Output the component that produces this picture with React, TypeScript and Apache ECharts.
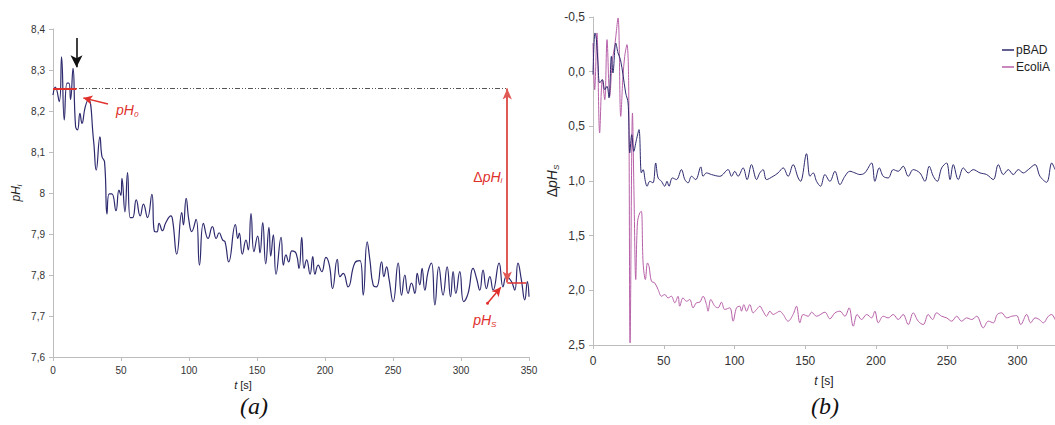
import React, { useEffect, useRef } from "react";
import * as echarts from "echarts";

// ---- Chart (a): pH_i versus time ----
const leftT = [0,1.7,4.6,6.3,8.3,10.3,11.7,12.9,14.7,16.6,18,19.8,21.3,23.7,26.1,29.8,31.8,34.5,36,37.9,39.7,41.3,43.3,46.3,48.5,49.9,50.7,52.9,54.8,56.8,58.5,61.2,64.1,66.5,69.5,72.7,74.6,76.4,78,80.5,83,86.7,88.1,91,94.7,95.9,97.9,99.9,102,105.2,107.7,110.6,114,117.2,120,122.1,124.8,126.5,129.2,134.1,135.9,137,139.2,141.9,143.6,145.6,147.8,150.5,152.2,154.2,156.4,158.8,160.1,162,164,167.7,169.4,171.3,173.3,175.7,178.7,180.9,182.9,184.6,186.5,189,191,192.6,195,197.6,200.7,203.2,205.6,209,211,213.4,217,222,225.7,228.1,231,233,235.4,237.9,241.6,243.3,245.3,247,250.1,253.8,256.3,258.7,261.1,263.6,266.1,267.8,269.7,271.4,273.4,275.8,278.3,280.8,283.7,286.8,289.8,292.3,294.2,296.2,299.1,302,305.2,308.9,311.4,313.8,316.2,318.7,321.2,323.6,328,330.9,333.4,337.1,339.5,341.9,344.4,346.9,348.8,350];
const leftPH = [8.239,8.258,8.223,8.332,8.178,8.268,8.268,8.228,8.304,8.162,8.154,8.194,8.17,8.21,8.228,8.129,8.056,8.137,8.089,8.076,7.949,7.998,7.998,7.957,8.007,7.994,8.036,7.954,8.05,7.94,7.94,7.983,7.944,7.973,7.94,7.997,7.906,7.905,7.926,7.908,7.928,7.944,7.93,7.851,7.952,7.922,7.987,7.934,7.906,7.936,7.824,7.926,7.889,7.918,7.889,7.903,7.885,7.881,7.832,7.923,7.889,7.902,7.851,7.885,7.861,7.95,7.857,7.895,7.854,7.928,7.827,7.916,7.846,7.898,7.802,7.892,7.824,7.849,7.832,7.859,7.853,7.816,7.892,7.816,7.837,7.802,7.845,7.802,7.824,7.808,7.843,7.824,7.767,7.838,7.796,7.804,7.771,7.83,7.835,7.751,7.881,7.837,7.776,7.771,7.832,7.796,7.82,7.792,7.735,7.829,7.751,7.8,7.755,7.78,7.755,7.804,7.776,7.816,7.763,7.808,7.829,7.727,7.82,7.751,7.82,7.747,7.808,7.755,7.808,7.735,7.755,7.816,7.792,7.763,7.812,7.767,7.796,7.763,7.829,7.771,7.796,7.784,7.763,7.829,7.788,7.739,7.784,7.747];

// annotation values (data space)
const PH0 = 8.255;
const PHS = 7.782;
const DELTA_T = 334;
const MARK_T = 17.3;
const MARK_ARROW = [8.378, 8.307];
const PH0_ARROW = [[40.4, 8.217], [22.3, 8.232]];
const PHS_ARROW = [[319.5, 7.731], [329.3, 7.77]];
const PH0_LABEL = [54.6, 8.202];
const DPH_LABEL = [319.7, 8.04];
const PHS_LABEL = [317.5, 7.69];

// ---- Chart (b): delta pH_S versus time ----
const pbadT = [0,1.4,2.4,3.5,4.7,6.6,8.3,9.9,11.3,13,14.1,16.1,17.7,19.4,21.2,23.1,24.8,26,27.4,28.8,30.7,32.5,34.2,35.4,37,38.2,40.1,42.4,44.3,46,48.4,50.7,52.3,53.7,56.1,59,62.5,64.9,67.2,69.6,72.6,76.2,77.8,80.2,83.7,89.6,95.5,97.9,100.2,102.5,106.1,108.9,112,115.6,117.9,120.2,122.6,127.3,130.8,134.4,137.9,141.4,145,146.7,150.9,153.3,155.6,158,160.8,163.9,167.4,171,174.5,178,181.5,185.1,188.6,192.1,196.9,199.2,202.3,205.1,208.6,212.2,215.7,219.2,222.8,226.3,231,234.6,237.6,240.5,243.3,246.4,249.9,252.3,254.6,258.1,261.7,265.2,268.7,273.5,278.2,282.9,286.4,290,293.5,297,300.6,304.1,307.6,312.4,315.9,320.6,324.2,326.5];
const pbadV = [0.027,-0.354,-0.293,-0.08,0.103,0.073,0.165,0.134,0.24,-0.14,0.012,-0.262,-0.171,-0.11,0.027,0.195,0.286,0.743,0.576,0.729,0.622,0.53,0.926,0.896,1.003,1.048,1.003,1.017,0.835,0.972,1.003,1.048,1.003,1.048,0.972,0.987,0.896,0.987,1.017,0.957,0.987,0.871,0.957,0.926,0.941,0.957,0.896,0.957,0.911,0.957,0.88,0.987,0.85,0.987,0.926,0.896,0.987,0.957,0.926,0.88,0.957,0.85,0.972,1.003,0.75,0.957,0.926,1.003,1.048,0.941,1.003,0.911,1.033,0.957,0.911,0.926,0.941,0.926,0.835,1.003,0.88,0.957,0.972,0.896,0.911,0.865,0.957,0.896,0.926,1.003,0.865,0.957,1.003,0.88,0.835,0.987,0.85,0.987,0.88,0.926,0.896,0.926,0.941,0.987,0.85,0.941,0.896,0.941,0.896,0.926,0.896,0.85,0.957,1.012,0.835,0.896];
const ecoliT = [0,1.2,2.8,4.7,6.6,8.3,9.9,11.8,13.7,15.3,17.7,19.6,21.2,22.4,24,25.2,26.2,27.9,29,30.2,31.4,33,34.2,35.4,37,38.5,39.6,41.3,43.6,46,48.4,50.7,53,55.4,57.8,60.1,61.3,63.6,66.1,68.4,70.7,73.1,75.5,77.8,80.2,81.3,83.2,86.1,88.4,90.8,93.1,96.7,99,101.4,103.7,104.9,106.6,108.5,110.8,113.2,115.6,117.9,120.2,122.6,125,127.3,129.7,132,134.4,137.9,141.4,143.8,146.2,148.5,152.1,154.5,158,163.9,167.4,171,174.5,178,181,183.9,186.7,189.8,193.4,196.9,199.2,201.6,205.1,208.6,212.2,215.7,219.2,222.8,226.3,229.8,233.4,236.9,240,242.8,246.4,249.9,253.5,257,260.5,264.1,267.6,271.2,275.8,279.4,282.9,285.7,288.8,292.4,295.9,299.4,302.3,306.5,309.3,312.4,315.4,318.2,321.8,324.2,326.5];
const ecoliV = [-0.262,0.165,-0.354,0.56,0.073,0.256,-0.293,0.226,-0.11,-0.231,-0.491,0.409,0.043,-0.14,-0.247,0.103,2.48,0.378,1.14,1.901,1.383,1.292,1.277,1.749,1.901,1.749,1.78,1.917,1.932,1.993,2.054,2.038,2.069,2.054,2.114,2.054,2.145,2.069,2.1,2.084,2.16,2.114,2.108,2.054,2.13,2.191,2.084,2.145,2.16,2.108,2.175,2.16,2.282,2.16,2.145,2.191,2.13,2.191,2.13,2.206,2.175,2.145,2.191,2.237,2.191,2.221,2.206,2.191,2.221,2.282,2.221,2.145,2.297,2.221,2.237,2.2,2.237,2.2,2.26,2.206,2.191,2.237,2.16,2.328,2.221,2.267,2.221,2.252,2.191,2.297,2.237,2.252,2.221,2.267,2.221,2.313,2.206,2.282,2.313,2.221,2.267,2.206,2.237,2.252,2.282,2.237,2.282,2.252,2.267,2.237,2.343,2.282,2.297,2.221,2.206,2.252,2.237,2.231,2.313,2.221,2.297,2.252,2.267,2.297,2.237,2.221,2.267];

const LEFT_TICKS = { min: 7.6, max: 8.4, step: 0.1 };
const RIGHT_TICKS = { min: -0.5, max: 2.5, step: 0.5 };
const X_LEFT = { min: 0, max: 350, step: 50 };
const X_RIGHT = { min: 0, max: 326.5, step: 50 };

const BLUE = "#2d2a6e";
const MAGENTA = "#b760a8";
const RED = "#e0302c";
const FONT = "'Liberation Sans', Arial, sans-serif";

const zip = (a: number[], b: number[]) => a.map((v, i) => [v, b[i]]);

const subRich = (size: number, color: string) => ({
  m: { fontSize: size, fontStyle: "italic", color, fontFamily: FONT, lineHeight: size + 2 },
  s: { fontSize: Math.round(size * 0.6), fontStyle: "italic", color, fontFamily: FONT, lineHeight: 8, padding: [Math.round(size * 0.55), 0, 0, 0] },
});

export default function App() {
  const ref = useRef<HTMLDivElement>(null);
  useEffect(() => {
    if (!ref.current) return;
    const chart = echarts.init(ref.current, undefined, { renderer: "svg" });
    const axisLine = { show: true, onZero: false, lineStyle: { color: "#bdbdbd", width: 1 } };
    const axisTick = { show: true, length: 4, lineStyle: { color: "#bdbdbd" } };
    const leftFmt = (v: number) => {
      const r = Math.round(v * 10) / 10;
      return Math.abs(r - 8) < 1e-9 ? "8" : r.toFixed(1).replace(".", ",");
    };
    const rightFmt = (v: number) => (Math.round(v * 10) / 10).toFixed(1).replace(".", ",");
    const option: any = {
      animation: false,
      backgroundColor: "#ffffff",
      textStyle: { fontFamily: FONT },
      grid: [
        { left: 53, right: 526, top: 29, bottom: 68 },
        { left: 593, right: 0, top: 17, bottom: 80 },
      ],
      legend: {
        data: ["pBAD", "EcoliA"],
        orient: "vertical",
        left: 997,
        top: 39,
        icon: "rect",
        itemWidth: 12,
        itemHeight: 1.5,
        itemGap: 5,
        textStyle: { fontSize: 12, color: "#222", fontFamily: FONT, padding: [0, 0, 0, -3] },
      },
      xAxis: [
        {
          type: "value", gridIndex: 0, min: X_LEFT.min, max: X_LEFT.max, interval: X_LEFT.step,
          axisLine, axisTick, splitLine: { show: false },
          axisLabel: { color: "#333", fontSize: 10, margin: 8 },
          name: "{i|t} [s]", nameLocation: "middle", nameGap: 20,
          nameTextStyle: { fontSize: 11, color: "#222", padding: [0, 96, 0, 0], rich: { i: { fontStyle: "italic", fontSize: 11 } } },
        },
        {
          type: "value", gridIndex: 1, min: X_RIGHT.min, max: X_RIGHT.max, interval: X_RIGHT.step,
          axisLine, axisTick, splitLine: { show: false },
          axisLabel: { color: "#333", fontSize: 12, margin: 10, showMaxLabel: false },
          name: "{i|t} [s]", nameLocation: "middle", nameGap: 30,
          nameTextStyle: { fontSize: 12, color: "#222", rich: { i: { fontStyle: "italic", fontSize: 12 } } },
        },
      ],
      yAxis: [
        {
          type: "value", gridIndex: 0, min: LEFT_TICKS.min, max: LEFT_TICKS.max, interval: LEFT_TICKS.step,
          axisLine, axisTick, splitLine: { show: false },
          axisLabel: { color: "#333", fontSize: 10, margin: 8, formatter: leftFmt },
          name: "{m|pH}{s|i}", nameLocation: "middle", nameGap: 30, nameRotate: 90,
          nameTextStyle: { rich: subRich(12, "#222") },
        },
        {
          type: "value", gridIndex: 1, inverse: true, min: RIGHT_TICKS.min, max: RIGHT_TICKS.max, interval: RIGHT_TICKS.step,
          axisLine, axisTick, splitLine: { show: false },
          axisLabel: { color: "#333", fontSize: 12, margin: 8, formatter: rightFmt },
          name: "{d|Δ}{m|pH}{s|S}", nameLocation: "middle", nameGap: 22, nameRotate: 90,
          nameTextStyle: { rich: { ...subRich(14, "#222"), d: { fontSize: 14, color: "#222", fontFamily: FONT, lineHeight: 16 } } },
        },
      ],
      series: [
        {
          name: "pHi",
          type: "line",
          xAxisIndex: 0, yAxisIndex: 0,
          data: zip(leftT, leftPH),
          smooth: 0.5,
          showSymbol: false,
          lineStyle: { color: BLUE, width: 1.2 },
          z: 3,
          markLine: {
            silent: true,
            animation: false,
            label: { show: false },
            symbol: ["none", "none"],
            data: [
              [
                { coord: [0, PH0], symbol: "none", lineStyle: { color: "#555", width: 1, type: [5, 2, 1, 2, 1, 2] } },
                { coord: [DELTA_T, PH0], symbol: "none" },
              ],
              [
                { coord: [0, PH0], symbol: "none", lineStyle: { color: RED, width: 2, type: "solid" } },
                { coord: [MARK_T, PH0], symbol: "none" },
              ],
              [
                { coord: [DELTA_T, PHS], symbol: "none", lineStyle: { color: RED, width: 1.5, type: "solid" } },
                { coord: [348, PHS], symbol: "none" },
              ],
              [
                { coord: [DELTA_T, PH0], symbol: "arrow", symbolSize: [7, 11], lineStyle: { color: "#e05a55", width: 2, type: "solid" } },
                { coord: [DELTA_T, PHS], symbol: "arrow", symbolSize: [7, 11] },
              ],
              [
                { coord: [MARK_T, MARK_ARROW[0]], symbol: "none", lineStyle: { color: "#111", width: 1.6, type: "solid" } },
                { coord: [MARK_T, MARK_ARROW[1]], symbol: "arrow", symbolSize: [9, 12] },
              ],
              [
                { coord: PH0_ARROW[0], symbol: "none", lineStyle: { color: RED, width: 1.5, type: "solid" } },
                { coord: PH0_ARROW[1], symbol: "arrow", symbolSize: [7, 9] },
              ],
              [
                { coord: PHS_ARROW[0], symbol: "circle", symbolSize: 3, lineStyle: { color: RED, width: 1.5, type: "solid" } },
                { coord: PHS_ARROW[1], symbol: "arrow", symbolSize: [7, 9] },
              ],
            ],
          },
          markPoint: {
            silent: true,
            animation: false,
            symbol: "circle",
            symbolSize: 1,
            itemStyle: { color: "rgba(0,0,0,0)" },
            label: { show: true, position: "inside" },
            data: [
              { coord: PH0_LABEL, label: { formatter: "{m|pH}{s|0}", rich: subRich(14, RED) } },
              { coord: DPH_LABEL, label: { formatter: "{d|Δ}{m|pH}{s|i}", rich: { ...subRich(14, RED), d: { fontSize: 14, color: RED, fontFamily: FONT, lineHeight: 16 } } } },
              { coord: PHS_LABEL, label: { formatter: "{m|pH}{s|S}", rich: subRich(14, RED) } },
            ],
          },
        },
        {
          name: "pBAD",
          type: "line",
          xAxisIndex: 1, yAxisIndex: 1,
          data: zip(pbadT, pbadV),
          smooth: 0.35,
          showSymbol: false,
          clip: true,
          color: BLUE,
          lineStyle: { color: BLUE, width: 1 },
          z: 3,
        },
        {
          name: "EcoliA",
          type: "line",
          xAxisIndex: 1, yAxisIndex: 1,
          data: zip(ecoliT, ecoliV),
          smooth: 0.35,
          showSymbol: false,
          clip: true,
          color: MAGENTA,
          lineStyle: { color: MAGENTA, width: 1 },
          z: 2,
        },
      ],
      graphic: [
        { type: "text", left: 240, top: 394, style: { text: "(a)", font: "italic 24px 'Liberation Serif', serif", fill: "#111" } },
        { type: "text", left: 811, top: 394, style: { text: "(b)", font: "italic 24px 'Liberation Serif', serif", fill: "#111" } },
      ],
    };
    chart.setOption(option);
    return () => chart.dispose();
  }, []);
  return (
    <div style={{ position: "absolute", left: 0, top: 0, width: 1055, height: 425, overflow: "hidden", background: "#fff" }}>
      <div ref={ref} style={{ width: 1055, height: 425 }} />
    </div>
  );
}
